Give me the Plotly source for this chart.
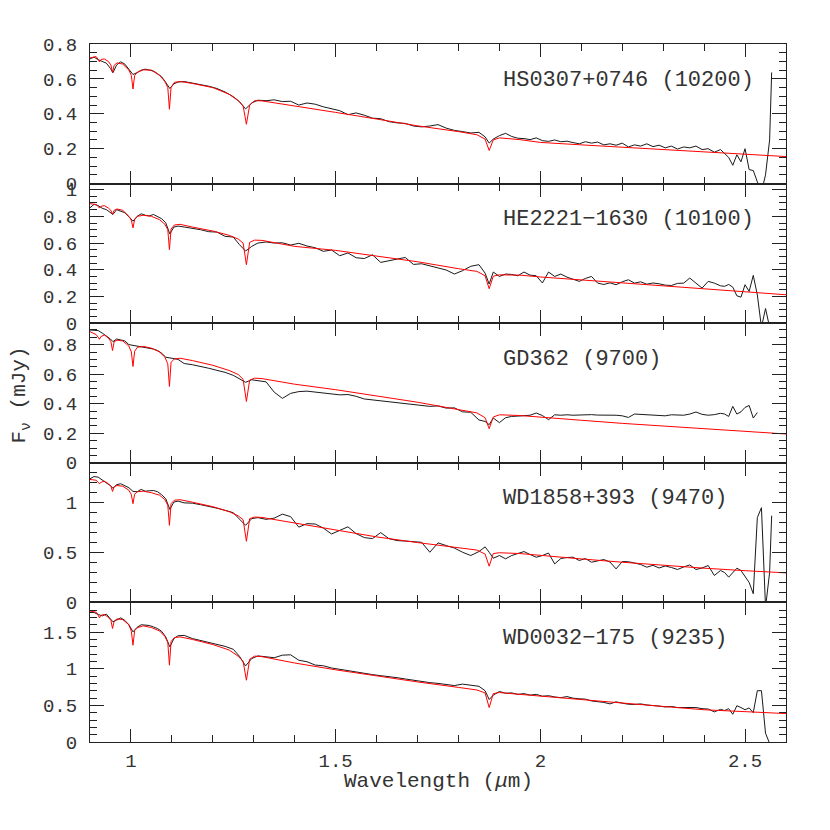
import plotly.graph_objects as go
from plotly.subplots import make_subplots

# ---------------- data ----------------
obs_wl = [
    0.900, 0.910, 0.920, 0.930, 0.940, 0.950, 0.956, 0.965, 0.975, 0.985,
    0.995, 1.005, 1.015, 1.025, 1.035, 1.045, 1.055, 1.065, 1.075, 1.085,
    1.095, 1.105, 1.115, 1.130, 1.150, 1.170, 1.190, 1.210, 1.230, 1.250,
    1.265, 1.280, 1.295, 1.310, 1.330, 1.350, 1.370, 1.390, 1.410, 1.430,
    1.450, 1.470, 1.490, 1.510, 1.530, 1.550, 1.570, 1.590, 1.610, 1.630,
    1.650, 1.670, 1.690, 1.710, 1.730, 1.750, 1.770, 1.790, 1.810, 1.830,
    1.850, 1.865, 1.875, 1.885, 1.900, 1.915, 1.930, 1.945, 1.960, 1.975,
    1.990, 2.005, 2.020, 2.035, 2.050, 2.065, 2.080, 2.095, 2.110, 2.125,
    2.140, 2.155, 2.170, 2.185, 2.200, 2.215, 2.230, 2.245, 2.260, 2.275,
    2.290, 2.305, 2.320, 2.335, 2.350, 2.365, 2.380, 2.395, 2.410, 2.425,
    2.440, 2.450, 2.460, 2.470, 2.480, 2.490, 2.500, 2.510, 2.520, 2.530,
    2.540, 2.550, 2.560, 2.565,
]

model_wl = [
    0.900, 0.915, 0.920, 0.923, 0.927, 0.935, 0.945, 0.951, 0.955, 0.959,
    0.966, 0.980, 0.995, 1.001, 1.005, 1.009, 1.016, 1.030, 1.050, 1.070,
    1.083, 1.090, 1.094, 1.098, 1.106, 1.120, 1.150, 1.200, 1.240, 1.262,
    1.274, 1.282, 1.290, 1.302, 1.320, 1.400, 1.500, 1.600, 1.700, 1.800,
    1.845, 1.865, 1.875, 1.885, 1.900, 1.950, 2.000, 2.100, 2.200, 2.300,
    2.400, 2.500, 2.600,
]

star_labels = [
    "HS0307+0746 (10200)",
    "HE2221\u22121630 (10100)",
    "GD362 (9700)",
    "WD1858+393 (9470)",
    "WD0032\u2212175 (9235)",
]

obs_hs0307 = [
    0.715, 0.725, 0.710, 0.700, 0.690, 0.660, 0.635, 0.680, 0.698, 0.685,
    0.655, 0.625, 0.636, 0.650, 0.656, 0.652, 0.645, 0.630, 0.612, 0.580,
    0.545, 0.572, 0.582, 0.585, 0.577, 0.568, 0.558, 0.545, 0.525, 0.498,
    0.470, 0.428, 0.462, 0.478, 0.475, 0.480, 0.470, 0.472, 0.450, 0.462,
    0.455, 0.440, 0.428, 0.418, 0.395, 0.405, 0.392, 0.375, 0.372, 0.355,
    0.348, 0.345, 0.330, 0.325, 0.330, 0.338, 0.318, 0.305, 0.298, 0.290,
    0.294, 0.268, 0.232, 0.255, 0.275, 0.288, 0.270, 0.260, 0.258, 0.252,
    0.262, 0.246, 0.242, 0.250, 0.240, 0.243, 0.235, 0.228, 0.240, 0.232,
    0.238, 0.222, 0.228, 0.220, 0.232, 0.210, 0.222, 0.215, 0.228, 0.212,
    0.220, 0.205, 0.215, 0.198, 0.210, 0.205, 0.215, 0.195, 0.200, 0.180,
    0.195, 0.175, 0.150, 0.105, 0.165, 0.125, 0.200, 0.080, 0.075, 0.010,
    -0.050, 0.050, 0.250, 0.637,
]
model_hs0307 = [
    0.720, 0.728, 0.712, 0.698, 0.712, 0.714, 0.700, 0.680, 0.637, 0.678,
    0.692, 0.685, 0.650, 0.620, 0.542, 0.620, 0.638, 0.652, 0.650, 0.620,
    0.585, 0.550, 0.426, 0.550, 0.580, 0.585, 0.574, 0.550, 0.512, 0.475,
    0.445, 0.340, 0.450, 0.475, 0.474, 0.446, 0.408, 0.370, 0.331, 0.298,
    0.280, 0.255, 0.190, 0.250, 0.262, 0.252, 0.236, 0.222, 0.209, 0.196,
    0.182, 0.168, 0.155,
]

obs_he2221 = [
    0.864, 0.890, 0.880, 0.860, 0.850, 0.830, 0.814, 0.850, 0.840, 0.827,
    0.797, 0.764, 0.800, 0.819, 0.808, 0.803, 0.814, 0.800, 0.782, 0.752,
    0.668, 0.720, 0.727, 0.720, 0.712, 0.700, 0.685, 0.682, 0.650, 0.645,
    0.588, 0.540, 0.575, 0.600, 0.608, 0.600, 0.602, 0.585, 0.598, 0.578,
    0.565, 0.538, 0.548, 0.505, 0.526, 0.490, 0.484, 0.512, 0.455, 0.470,
    0.480, 0.492, 0.440, 0.445, 0.428, 0.412, 0.398, 0.368, 0.393, 0.426,
    0.438, 0.375, 0.293, 0.383, 0.350, 0.368, 0.365, 0.355, 0.383, 0.360,
    0.355, 0.301, 0.383, 0.350, 0.368, 0.345, 0.328, 0.313, 0.335, 0.350,
    0.300, 0.290, 0.302, 0.288, 0.310, 0.325, 0.300, 0.310, 0.292, 0.301,
    0.295, 0.285, 0.282, 0.298, 0.300, 0.338, 0.300, 0.263, 0.313, 0.300,
    0.280, 0.276, 0.290, 0.270, 0.205, 0.195, 0.288, 0.238, 0.358, 0.212,
    -0.030, 0.110, -0.030, None,
]
model_he2221 = [
    0.895, 0.888, 0.875, 0.862, 0.875, 0.880, 0.862, 0.845, 0.815, 0.845,
    0.855, 0.845, 0.800, 0.770, 0.714, 0.775, 0.800, 0.808, 0.800, 0.775,
    0.740, 0.700, 0.551, 0.705, 0.735, 0.740, 0.720, 0.690, 0.658, 0.630,
    0.600, 0.438, 0.605, 0.622, 0.620, 0.575, 0.545, 0.505, 0.460, 0.408,
    0.388, 0.355, 0.258, 0.352, 0.362, 0.360, 0.346, 0.324, 0.301, 0.280,
    0.258, 0.236, 0.213,
]

obs_gd362 = [
    0.899, 0.899, 0.895, 0.878, 0.860, 0.838, 0.820, 0.838, 0.832, 0.825,
    0.800, 0.795, 0.791, 0.789, 0.785, 0.778, 0.770, 0.760, 0.742, 0.715,
    0.708, 0.705, 0.700, 0.672, 0.664, 0.654, 0.640, 0.626, 0.612, 0.592,
    0.568, 0.545, 0.562, 0.556, 0.548, 0.478, 0.436, 0.470, 0.482, 0.485,
    0.478, 0.472, 0.468, 0.460, 0.462, 0.450, 0.432, 0.426, 0.420, 0.415,
    0.404, 0.400, 0.393, 0.388, 0.382, 0.385, 0.370, 0.372, 0.345, 0.342,
    0.290, 0.280, 0.258, 0.303, 0.272, 0.305, 0.314, 0.316, 0.320, 0.322,
    0.337, 0.320, 0.292, 0.325, 0.322, 0.325, 0.322, 0.324, 0.322, 0.326,
    0.323, 0.324, 0.320, 0.322, 0.318, 0.307, 0.330, 0.328, 0.322, 0.323,
    0.322, 0.318, 0.325, 0.321, 0.322, 0.330, 0.344, 0.328, 0.322, 0.326,
    0.335, 0.330, 0.314, 0.382, 0.330, 0.345, 0.375, 0.388, 0.303, 0.340,
    None, None, None, None,
]
model_gd362 = [
    0.888, 0.868, 0.850, 0.836, 0.855, 0.865, 0.845, 0.820, 0.760, 0.820,
    0.830, 0.825, 0.790, 0.750, 0.652, 0.755, 0.782, 0.788, 0.776, 0.750,
    0.715, 0.670, 0.517, 0.680, 0.703, 0.708, 0.692, 0.660, 0.625, 0.598,
    0.565, 0.415, 0.560, 0.573, 0.570, 0.532, 0.495, 0.452, 0.410, 0.360,
    0.338, 0.305, 0.231, 0.310, 0.325, 0.320, 0.308, 0.288, 0.267, 0.249,
    0.231, 0.213, 0.195,
]

obs_wd1858 = [
    1.240, 1.262, 1.256, 1.228, 1.205, 1.170, 1.146, 1.180, 1.190, 1.172,
    1.150, 1.113, 1.110, 1.133, 1.115, 1.120, 1.122, 1.110, 1.080, 1.040,
    0.933, 1.006, 1.016, 0.998, 0.995, 0.980, 0.965, 0.945, 0.923, 0.900,
    0.835, 0.773, 0.840, 0.850, 0.833, 0.845, 0.885, 0.860, 0.755, 0.790,
    0.786, 0.745, 0.686, 0.720, 0.758, 0.690, 0.650, 0.640, 0.700, 0.640,
    0.620, 0.615, 0.610, 0.603, 0.503, 0.597, 0.570, 0.545, 0.503, 0.470,
    0.510, 0.557, 0.503, 0.443, 0.470, 0.437, 0.470, 0.490, 0.510, 0.480,
    0.453, 0.470, 0.495, 0.386, 0.440, 0.450, 0.453, 0.420, 0.440, 0.403,
    0.420, 0.430, 0.405, 0.336, 0.410, 0.408, 0.395, 0.380, 0.353, 0.372,
    0.345, 0.365, 0.350, 0.330, 0.355, 0.376, 0.330, 0.345, 0.370, 0.270,
    0.320, 0.300, 0.253, 0.300, 0.343, 0.320, 0.260, 0.200, 0.087, 0.850,
    0.950, -0.050, 0.300, 0.870,
]
model_wd1858 = [
    1.233, 1.225, 1.205, 1.190, 1.205, 1.215, 1.190, 1.165, 1.113, 1.160,
    1.172, 1.165, 1.125, 1.080, 0.990, 1.085, 1.110, 1.115, 1.100, 1.075,
    1.030, 0.975, 0.773, 0.990, 1.025, 1.030, 1.005, 0.960, 0.910, 0.868,
    0.830, 0.613, 0.840, 0.856, 0.852, 0.797, 0.727, 0.657, 0.600, 0.549,
    0.525, 0.485, 0.363, 0.490, 0.498, 0.490, 0.470, 0.436, 0.403, 0.372,
    0.343, 0.318, 0.296,
]

obs_wd0032 = [
    1.767, 1.767, 1.740, 1.721, 1.745, 1.680, 1.640, 1.663, 1.694, 1.660,
    1.600, 1.503, 1.565, 1.600, 1.598, 1.590, 1.570, 1.548, 1.510, 1.434,
    1.298, 1.412, 1.450, 1.455, 1.412, 1.385, 1.360, 1.335, 1.305, 1.265,
    1.170, 1.038, 1.139, 1.175, 1.162, 1.150, 1.185, 1.190, 1.116, 1.095,
    1.050, 1.040, 1.010, 0.990, 0.975, 0.960, 0.940, 0.920, 0.905, 0.895,
    0.878, 0.860, 0.840, 0.825, 0.810, 0.800, 0.785, 0.770, 0.790, 0.775,
    0.760, 0.700, 0.580, 0.640, 0.690, 0.665, 0.670, 0.650, 0.660, 0.640,
    0.650, 0.625, 0.632, 0.615, 0.605, 0.620, 0.598, 0.590, 0.585, 0.560,
    0.552, 0.540, 0.520, 0.548, 0.530, 0.515, 0.512, 0.520, 0.505, 0.501,
    0.490, 0.478, 0.485, 0.470, 0.468, 0.462, 0.470, 0.455, 0.450, 0.411,
    0.445, 0.430, 0.455, 0.378, 0.495, 0.470, 0.440, 0.465, 0.400, 0.700,
    0.700, 0.120, -0.020, None,
]
model_wd0032 = [
    1.786, 1.772, 1.730, 1.694, 1.730, 1.740, 1.700, 1.660, 1.549, 1.650,
    1.680, 1.670, 1.600, 1.510, 1.321, 1.520, 1.560, 1.585, 1.562, 1.515,
    1.440, 1.360, 1.048, 1.370, 1.425, 1.434, 1.400, 1.330, 1.255, 1.170,
    1.100, 0.843, 1.130, 1.172, 1.165, 1.078, 0.985, 0.900, 0.820, 0.745,
    0.710, 0.670, 0.470, 0.660, 0.675, 0.650, 0.625, 0.575, 0.528, 0.485,
    0.440, 0.410, 0.388,
]

y_ranges = [[0, 0.8], [0, 1.045], [0, 0.945], [0, 1.4], [0, 1.905]]
y_major = [0.2, 0.2, 0.2, 0.5, 0.5]
y_minor = [0.05, 0.05, 0.05, 0.1, 0.1]

observed = [obs_hs0307, obs_he2221, obs_gd362, obs_wd1858, obs_wd0032]
models = [model_hs0307, model_he2221, model_gd362, model_wd1858, model_wd0032]

for o in observed:
    assert len(o) == len(obs_wl), (len(o), len(obs_wl))
for m in models:
    assert len(m) == len(model_wl), (len(m), len(model_wl))

# ---------------- figure ----------------
FONT = "Liberation Mono"
TXT = "#333333"
AX = "#222222"

fig = make_subplots(rows=5, cols=1, shared_xaxes=True, vertical_spacing=0)

for i in range(5):
    r = i + 1
    fig.add_trace(go.Scatter(x=obs_wl, y=observed[i], mode="lines",
                             line=dict(color="#1a1a1a", width=1),
                             connectgaps=False, showlegend=False,
                             hoverinfo="skip"), row=r, col=1)
    fig.add_trace(go.Scatter(x=model_wl, y=models[i], mode="lines",
                             line=dict(color="#ff0000", width=1),
                             showlegend=False, hoverinfo="skip"),
                  row=r, col=1)
    fig.update_yaxes(range=y_ranges[i], tick0=0, dtick=y_major[i],
                     ticks="inside", ticklen=14, tickwidth=1, tickcolor=AX,
                     minor=dict(ticks="inside", dtick=y_minor[i], tick0=0,
                                ticklen=7, tickwidth=1, tickcolor=AX),
                     showline=True, linecolor=AX, linewidth=1,
                     mirror="allticks", showgrid=False, zeroline=False,
                     ticklabelstandoff=8,
                     tickfont=dict(family=FONT, size=19, color=TXT),
                     row=r, col=1)
    fig.update_xaxes(range=[0.9, 2.6], tick0=0, dtick=0.5,
                     ticks="inside", ticklen=13, tickwidth=1, tickcolor=AX,
                     minor=dict(ticks="inside", dtick=0.1, tick0=0,
                                ticklen=7, tickwidth=1, tickcolor=AX),
                     showline=True, linecolor=AX, linewidth=1,
                     mirror="allticks", showgrid=False, zeroline=False,
                     tickfont=dict(family=FONT, size=19, color=TXT),
                     row=r, col=1)
    xref = "x" if r == 1 else f"x{r}"
    yref = "y domain" if r == 1 else f"y{r} domain"
    fig.add_annotation(text=star_labels[i], x=1.903, xref=xref,
                       y=0.742, yref=yref, xanchor="left", yanchor="middle",
                       showarrow=False,
                       font=dict(family=FONT, size=22, color=TXT))

fig.update_xaxes(ticklabelstandoff=1, row=5, col=1)

fig.add_annotation(text="Wavelength (<i>\u03bc</i>m)", x=0.5, xref="paper",
                   y=-0.057, yref="paper", xanchor="center", yanchor="middle",
                   showarrow=False, font=dict(family=FONT, size=21, color=TXT))
fig.add_annotation(text="F<sub>\u03bd</sub> (mJy)", x=-0.100, xref="paper",
                   y=0.497, yref="paper", xanchor="center", yanchor="middle",
                   textangle=-90, showarrow=False,
                   font=dict(family=FONT, size=21, color=TXT))

fig.update_layout(width=830, height=830,
                  margin=dict(l=82, r=52, t=36, b=96),
                  paper_bgcolor="white", plot_bgcolor="white",
                  showlegend=False)

fig.write_html("out.html")
